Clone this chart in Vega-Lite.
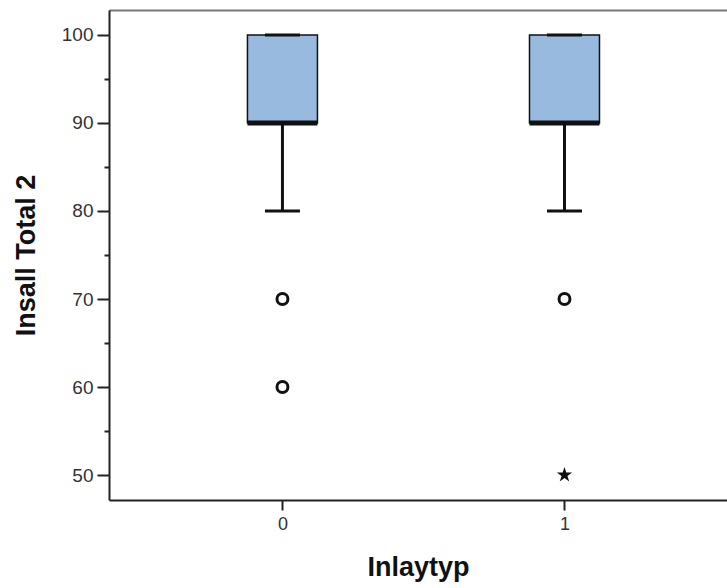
{
  "$schema": "https://vega.github.io/schema/vega-lite/v6.json",
  "width": 618,
  "height": 490,
  "autosize": "none",
  "padding": {"left": 109, "top": 10, "right": 0, "bottom": 88},
  "background": "white",
  "config": {"view": {"stroke": null}, "font": "Liberation Sans"},
  "datasets": {
    "boxes": [
      {"group": 0, "lower": 80, "q1": 90, "median": 90, "q3": 100, "upper": 100},
      {"group": 1, "lower": 80, "q1": 90, "median": 90, "q3": 100, "upper": 100}
    ],
    "outliers": [
      {"group": 0, "value": 70, "kind": "outlier"},
      {"group": 0, "value": 60, "kind": "outlier"},
      {"group": 1, "value": 70, "kind": "outlier"},
      {"group": 1, "value": 50, "kind": "extreme"}
    ]
  },
  "resolve": {"axis": {"x": "independent", "y": "independent"}},
  "layer": [
    {
      "data": {"name": "boxes"},
      "mark": {"type": "rule", "stroke": "#111", "strokeWidth": 3},
      "encoding": {
        "x": {"field": "group", "type": "quantitative",
              "scale": {"domain": [-0.615, 1.5762], "nice": false, "zero": false, "padding": 0},
              "axis": {"values": [0, 1], "title": "Inlaytyp", "grid": false,
                       "domainColor": "#222", "domainWidth": 2,
                       "tickColor": "#222", "tickWidth": 2, "tickSize": 10,
                       "labelFont": "Liberation Sans", "labelFontSize": 18, "labelColor": "#333",
                       "labelPadding": 5,
                       "titleFont": "Liberation Sans", "titleFontSize": 27, "titleFontWeight": "bold",
                       "titleColor": "#111", "titlePadding": 21}},
        "y": {"field": "lower", "type": "quantitative",
              "scale": {"domain": [47.16, 102.84], "nice": false, "zero": false, "padding": 0},
              "axis": {"values": [50, 55, 60, 65, 70, 75, 80, 85, 90, 95, 100],
                       "labelExpr": "datum.value % 10 === 0 ? datum.label : ''",
                       "title": "Insall Total 2", "grid": false,
                       "domainColor": "#222", "domainWidth": 2,
                       "tickColor": "#222", "tickWidth": 2,
                       "tickSize": {"condition": {"test": "datum.value % 10 === 0", "value": 12}, "value": 5},
                       "labelFont": "Liberation Sans", "labelFontSize": 19, "labelColor": "#333",
                       "labelPadding": 4,
                       "titleFont": "Liberation Sans", "titleFontSize": 27, "titleFontWeight": "bold",
                       "titleColor": "#111", "titlePadding": 21}},
        "y2": {"field": "q1"}
      }
    },
    {
      "data": {"name": "boxes"},
      "mark": {"type": "tick", "orient": "horizontal", "color": "#111", "size": 35, "thickness": 3, "opacity": 1},
      "encoding": {
        "x": {"field": "group", "type": "quantitative",
              "axis": {"orient": "top", "labels": false, "ticks": false, "title": null,
                       "domainColor": "#777", "domainWidth": 2, "grid": false}},
        "y": {"field": "lower", "type": "quantitative", "axis": null}
      }
    },
    {
      "data": {"name": "boxes"},
      "mark": {"type": "bar", "width": 70, "fill": "#99badf", "stroke": "#111", "strokeWidth": 1.5},
      "encoding": {
        "x": {"field": "group", "type": "quantitative", "axis": null},
        "y": {"field": "q1", "type": "quantitative", "axis": null},
        "y2": {"field": "q3"}
      }
    },
    {
      "data": {"name": "boxes"},
      "mark": {"type": "tick", "orient": "horizontal", "color": "#111", "size": 35, "thickness": 3, "opacity": 1},
      "encoding": {
        "x": {"field": "group", "type": "quantitative", "axis": null},
        "y": {"field": "upper", "type": "quantitative", "axis": null}
      }
    },
    {
      "data": {"name": "boxes"},
      "mark": {"type": "tick", "orient": "horizontal", "color": "#111", "size": 70, "thickness": 5, "opacity": 1},
      "encoding": {
        "x": {"field": "group", "type": "quantitative", "axis": null},
        "y": {"field": "median", "type": "quantitative", "axis": null}
      }
    },
    {
      "data": {"name": "outliers"},
      "transform": [{"filter": "datum.kind === 'outlier'"}],
      "mark": {"type": "point", "shape": "circle", "filled": false, "stroke": "#111", "strokeWidth": 3, "size": 120, "opacity": 1},
      "encoding": {
        "x": {"field": "group", "type": "quantitative", "axis": null},
        "y": {"field": "value", "type": "quantitative", "axis": null}
      }
    },
    {
      "data": {"name": "outliers"},
      "transform": [{"filter": "datum.kind === 'extreme'"}],
      "mark": {"type": "point", "shape": "M0,-1L0.2245,-0.309L0.951,-0.309L0.3633,0.118L0.5878,0.809L0,0.382L-0.5878,0.809L-0.3633,0.118L-0.951,-0.309L-0.2245,-0.309Z",
               "filled": true, "fill": "#111", "stroke": null, "size": 260, "opacity": 1},
      "encoding": {
        "x": {"field": "group", "type": "quantitative", "axis": null},
        "y": {"field": "value", "type": "quantitative", "axis": null}
      }
    }
  ]
}
